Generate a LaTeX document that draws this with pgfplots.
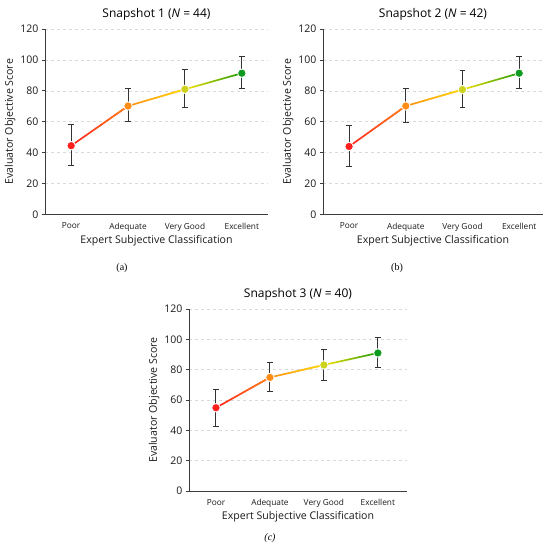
\documentclass[border=0pt]{standalone}
\usepackage{fontspec}
\setmainfont{Open Sans}
\newfontfamily\seriffont{Liberation Serif}
\usepackage{pgfplots}
\pgfplotsset{compat=1.18}
\usetikzlibrary{fadings}
\definecolor{cred}{RGB}{255,30,30}
\definecolor{corange}{RGB}{255,140,20}
\definecolor{cyellowm}{RGB}{205,210,26}
\definecolor{cyellowl}{RGB}{255,226,0}
\definecolor{cgreen}{RGB}{12,155,30}
\definecolor{axcol}{RGB}{60,60,60}
\pgfplotsset{
  snap/.style={
    scale only axis,
    axis x line*=bottom, axis y line*=left,
    axis line style={axcol, line width=0.9pt},
    ymin=0, ymax=120, ytick={0,20,...,120},
    xtick={0,1,2,3}, xticklabels={Poor,Adequate,Very Good,Excellent},
    x tick style={draw=none},
    y tick style={axcol, line width=0.8pt},
    tick align=outside, major tick length=3pt,
    ymajorgrids, grid style={dashed, black!15, line width=0.6pt},
    /pgf/number format/assume math mode=true,
    yticklabel style={font=\fontsize{10.5}{12}\selectfont, text=black!90},
    xticklabel style={font=\fontsize{8.3}{9}\selectfont, text=black!90, yshift=-2pt},
    xlabel={Expert Subjective Classification},
    ylabel={Evaluator Objective Score},
    label style={font=\fontsize{10.6}{12}\selectfont, text=black!90},
    xlabel style={at={(axis description cs:0.5,0)}, anchor=center, yshift=-26pt},
    ylabel style={at={([xshift=-35pt]axis description cs:0,0.5)}, anchor=center},
    title style={font=\fontsize{12}{14}\selectfont, text=black, at={(axis description cs:0.5,1)}, anchor=south, yshift=-1pt},
    clip=false,
  },
  pt/.style={only marks, mark=*, mark size=4.2pt, mark options={draw=white, line width=0.8pt, fill=#1},
    error bars/.cd, y dir=both, y explicit,
    error bar style={line width=1pt, black!80},
    error mark options={rotate=90, mark size=2.8pt, line width=1pt, black!80}},
}
% gradient segment: colour A at the left end, colour B faded in towards the right end
\newcommand\seg[6]{%
  \addplot[#1, line width=1.6pt, no marks] coordinates {(#3,#4) (#5,#6)};
  \addplot[#2, line width=1.6pt, no marks, path fading=west] coordinates {(#3,#4) (#5,#6)};
}
\begin{document}
\begin{tikzpicture}
\useasboundingbox (0,0) rectangle (550pt,547pt);
% Panel 1
\begin{axis}[snap, at={(45pt,332.5pt)}, anchor=south west, width=223pt, height=185.5pt,
  xmin=-0.46, xmax=3.46, title={Snapshot 1 (\textit{N} = 44)}]
\seg{cred}{corange}{0}{44.5}{1}{70.2}
\seg{corange}{cyellowl}{1}{70.2}{2}{81.0}
\seg{cyellowl}{cgreen}{2}{81.0}{3}{91.4}
\addplot[pt=cred] coordinates {(0,44.5) += (0,13.5) -= (0,13.0)};
\addplot[pt=corange] coordinates {(1,70.2) += (0,11.6) -= (0,10.2)};
\addplot[pt=cyellowm] coordinates {(2,81.0) += (0,12.5) -= (0,12.0)};
\addplot[pt=cgreen] coordinates {(3,91.4) += (0,10.8) -= (0,10.2)};
\end{axis}
% Panel 2
\begin{axis}[snap, at={(323pt,332.5pt)}, anchor=south west, width=220pt, height=185.5pt,
  xmin=-0.46, xmax=3.42, title={Snapshot 2 (\textit{N} = 42)}]
\seg{cred}{corange}{0}{44.0}{1}{70.2}
\seg{corange}{cyellowl}{1}{70.2}{2}{80.8}
\seg{cyellowl}{cgreen}{2}{80.8}{3}{91.4}
\addplot[pt=cred] coordinates {(0,44.0) += (0,13.8) -= (0,12.9)};
\addplot[pt=corange] coordinates {(1,70.2) += (0,11.6) -= (0,10.4)};
\addplot[pt=cyellowm] coordinates {(2,80.8) += (0,12.3) -= (0,11.9)};
\addplot[pt=cgreen] coordinates {(3,91.4) += (0,10.8) -= (0,10.0)};
\end{axis}
% Panel 3
\begin{axis}[snap, at={(189pt,56pt)}, anchor=south west, width=218pt, height=182pt,
  xmin=-0.5, xmax=3.54, title={Snapshot 3 (\textit{N} = 40)}]
\seg{cred}{corange}{0}{54.9}{1}{74.9}
\seg{corange}{cyellowl}{1}{74.9}{2}{83.1}
\seg{cyellowl}{cgreen}{2}{83.1}{3}{91.0}
\addplot[pt=cred] coordinates {(0,54.9) += (0,11.7) -= (0,12.5)};
\addplot[pt=corange] coordinates {(1,74.9) += (0,9.7) -= (0,9.6)};
\addplot[pt=cyellowm] coordinates {(2,83.1) += (0,10.5) -= (0,10.1)};
\addplot[pt=cgreen] coordinates {(3,91.0) += (0,10.1) -= (0,9.7)};
\end{axis}
\node[font=\seriffont\fontsize{10}{12}\selectfont] at (122pt,279pt) {(a)};
\node[font=\seriffont\fontsize{10}{12}\selectfont] at (397pt,279pt) {(b)};
\node[font=\seriffont\fontsize{10}{12}\selectfont\itshape] at (270pt,9pt) {(c)};
\end{tikzpicture}
\end{document}
